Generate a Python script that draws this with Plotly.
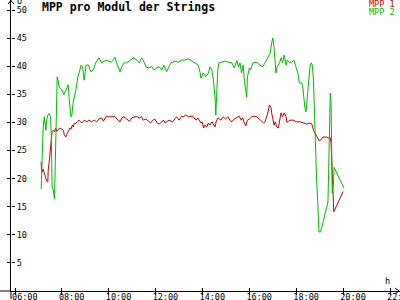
import plotly.graph_objects as go

# ---------------- data ----------------
mpp1_time = ["07:07", "07:08", "07:12", "07:17", "07:21", "07:24", "07:25", "07:28", "07:30", "07:31",
             "07:34", "07:35", "07:38", "07:41", "07:44", "07:47", "07:51", "07:55", "08:00", "08:04",
             "08:06", "08:10", "08:12", "08:16", "08:21", "08:23", "08:27", "08:29", "08:32", "08:34",
             "08:38", "08:41", "08:44", "08:51", "08:57", "09:04", "09:09", "09:16", "09:23", "09:29",
             "09:35", "09:42", "09:46", "09:53", "09:59", "10:08", "10:16", "10:24", "10:29", "10:33",
             "10:39", "10:46", "10:53", "10:59", "11:07", "11:13", "11:18", "11:24", "11:28", "11:35",
             "11:41", "11:47", "11:53", "11:58", "12:04", "12:09", "12:16", "12:20", "12:24", "12:28",
             "12:34", "12:43", "12:50", "12:54", "13:00", "13:07", "13:11", "13:17", "13:24", "13:31",
             "13:36", "13:43", "13:48", "13:52", "13:56", "13:59", "14:03", "14:06", "14:11", "14:15",
             "14:19", "14:24", "14:28", "14:32", "14:36", "14:40", "14:47", "14:53", "14:59", "15:05",
             "15:10", "15:15", "15:21", "15:28", "15:34", "15:39", "15:43", "15:47", "15:51", "15:55",
             "16:00", "16:06", "16:12", "16:19", "16:25", "16:32", "16:36", "16:40", "16:44", "16:48",
             "16:51", "16:55", "16:57", "17:00", "17:03", "17:06", "17:10", "17:14", "17:18", "17:21",
             "17:25", "17:29", "17:34", "17:36", "17:40", "17:44", "17:52", "18:01", "18:10", "18:18",
             "18:27", "18:35", "18:40", "18:44", "18:48", "18:54", "18:59", "19:03", "19:08", "19:14",
             "19:18", "19:22", "19:26", "19:29", "19:31", "19:32", "19:33", "19:36", "20:00"]
mpp1 = [23.0, 21.0, 21.7, 20.3, 19.6, 19.4, 21.5, 23.3, 25.0, 26.0,
        27.8, 28.4, 28.6, 28.3, 29.0, 28.4, 28.8, 29.0, 28.8, 28.6,
        27.8, 27.4, 27.8, 28.3, 29.0, 28.8, 29.5, 29.2, 29.9, 29.7,
        30.1, 30.2, 30.4, 29.9, 30.4, 30.1, 30.4, 30.1, 30.4, 30.1,
        30.6, 30.8, 30.2, 31.0, 31.0, 31.0, 31.0, 30.4, 30.1, 30.8,
        31.0, 30.6, 30.2, 30.8, 31.0, 31.0, 30.8, 31.0, 30.4, 30.6,
        30.2, 29.9, 30.4, 30.6, 29.9, 29.7, 30.1, 30.4, 29.9, 30.1,
        30.4, 30.1, 30.6, 31.0, 30.4, 31.1, 31.0, 31.3, 31.0, 31.1,
        31.0, 30.4, 30.8, 30.2, 29.9, 30.1, 29.0, 29.5, 29.2, 29.9,
        29.5, 30.1, 29.5, 29.2, 30.4, 30.8, 30.4, 31.0, 30.6, 31.0,
        30.4, 30.1, 30.6, 30.8, 31.1, 30.4, 30.8, 29.9, 29.4, 30.4,
        30.6, 31.0, 31.1, 31.0, 30.6, 30.1, 29.9, 30.1, 31.0, 31.9,
        33.1, 32.7, 31.7, 30.4, 29.5, 30.1, 29.2, 29.0, 30.4, 31.7,
        31.0, 31.7, 31.0, 30.0, 30.2, 30.4, 30.4, 30.1, 30.1, 29.9,
        29.7, 29.9, 29.7, 28.6, 28.1, 27.4, 26.7, 26.9, 27.4, 27.4,
        27.4, 27.2, 27.4, 26.5, 22.0, 19.6, 17.4, 14.1, 17.7]

mpp2_time = ["07:07", "07:10", "07:12", "07:15", "07:19", "07:21", "07:24", "07:27", "07:31", "07:33",
             "07:35", "07:38", "07:41", "07:42", "07:45", "07:47", "07:48", "07:51", "07:53", "08:00",
             "08:05", "08:11", "08:16", "08:19", "08:23", "08:25", "08:29", "08:36", "08:41", "08:46",
             "08:49", "08:53", "08:57", "09:02", "09:08", "09:14", "09:20", "09:27", "09:35", "09:42",
             "09:48", "09:53", "09:59", "10:06", "10:12", "10:16", "10:20", "10:24", "10:29", "10:33",
             "10:39", "10:46", "10:54", "11:03", "11:12", "11:18", "11:24", "11:28", "11:35", "11:41",
             "11:50", "11:56", "12:03", "12:09", "12:16", "12:21", "12:28", "12:32", "12:39", "12:50",
             "12:58", "13:07", "13:15", "13:24", "13:32", "13:41", "13:49", "13:54", "13:56", "14:02",
             "14:08", "14:15", "14:19", "14:24", "14:28", "14:32", "14:34", "14:36", "14:39", "14:42",
             "14:49", "14:58", "15:06", "15:15", "15:21", "15:28", "15:32", "15:36", "15:40", "15:44",
             "15:47", "15:51", "15:53", "15:55", "16:00", "16:03", "16:09", "16:14", "16:20", "16:27",
             "16:34", "16:40", "16:44", "16:48", "16:53", "16:57", "17:00", "17:03", "17:06", "17:08",
             "17:11", "17:17", "17:21", "17:25", "17:29", "17:34", "17:37", "17:42", "17:48", "17:54",
             "17:59", "18:04", "18:08", "18:14", "18:17", "18:20", "18:22", "18:25", "18:28", "18:30",
             "18:33", "18:35", "18:38", "18:41", "18:44", "18:46", "18:50", "18:52", "18:55", "18:56",
             "18:58", "19:02", "19:05", "19:09", "19:14", "19:18", "19:21", "19:22", "19:24", "19:26",
             "19:27", "19:29", "19:31", "19:32", "19:35", "19:37", "20:02"]
mpp2 = [18.1, 24.6, 29.0, 31.0, 28.6, 30.4, 31.3, 31.6, 31.0, 27.4,
        18.5, 18.0, 16.4, 19.2, 27.8, 35.8, 38.1, 37.2, 36.3, 35.8,
        34.9, 35.8, 36.7, 34.0, 31.0, 31.0, 33.6, 35.8, 38.1, 39.3,
        40.2, 39.9, 37.5, 40.2, 40.2, 39.0, 39.3, 40.7, 41.5, 40.6,
        40.9, 41.1, 40.9, 40.7, 41.1, 41.6, 40.6, 39.7, 39.0, 39.9,
        40.6, 40.6, 41.1, 41.5, 41.1, 40.6, 41.5, 41.1, 39.9, 39.7,
        39.9, 39.3, 39.7, 39.9, 39.3, 40.2, 39.0, 39.7, 40.6, 40.9,
        40.7, 41.1, 41.1, 41.3, 40.9, 40.6, 40.2, 38.8, 37.9, 38.8,
        38.1, 38.8, 39.9, 39.3, 37.5, 34.5, 31.3, 34.5, 39.3, 40.6,
        40.7, 40.9, 40.7, 40.6, 39.7, 41.0, 39.9, 40.6, 38.8, 40.2,
        37.5, 35.8, 34.5, 38.1, 39.7, 39.3, 40.6, 40.7, 40.6, 40.2,
        39.9, 40.6, 41.1, 41.6, 42.3, 44.1, 45.0, 43.4, 39.3, 38.8,
        39.9, 40.6, 41.5, 40.6, 42.0, 40.2, 41.1, 40.7, 40.7, 41.1,
        39.9, 38.8, 37.0, 37.0, 36.1, 33.6, 32.6, 31.9, 34.5, 35.4,
        38.8, 39.9, 40.6, 40.2, 37.5, 32.7, 26.3, 19.8, 15.7, 12.1,
        10.5, 10.5, 11.2, 12.3, 13.9, 14.8, 15.7, 18.5, 28.1, 32.7,
        35.2, 33.6, 22.8, 17.4, 18.8, 22.0, 18.3]

x_tick_hours = [6, 8, 10, 12, 14, 16, 18, 20, 22]
x_tick_labels = ["06:00", "08:00", "10:00", "12:00", "14:00", "16:00", "18:00", "20:00", "22:00"]
y_tick_vals = [5, 10, 15, 20, 25, 30, 35, 40, 45, 50]
y_tick_labels = [str(v) for v in y_tick_vals]

title_text = "MPP pro Modul der Strings"
series_names = ["MPP 1", "MPP 2"]
series_colors = ["#cc0000", "#00bb00"]


def to_hours(s):
    h, m = s.split(":")
    return int(h) + int(m) / 60.0


# ---------------- layout geometry ----------------
W, H = 400, 300
ML, MR, MT, MB = 11, 0, 0, 9
PW, PH = W - ML - MR, H - MT - MB
X_RANGE = [5.829, 22.425]
Y_RANGE = [0, 51.78]
FONT = "DejaVu Sans Mono"


def px(x):
    return (x - ML) / PW


def py(y):
    return (H - MB - y) / PH


fig = go.Figure()
fig.add_trace(go.Scatter(x=[to_hours(t) for t in mpp1_time], y=mpp1, mode="lines",
                         line=dict(color=series_colors[0], width=1), name=series_names[0],
                         showlegend=False))
fig.add_trace(go.Scatter(x=[to_hours(t) for t in mpp2_time], y=mpp2, mode="lines",
                         line=dict(color=series_colors[1], width=1), name=series_names[1],
                         showlegend=False))

axis_common = dict(showgrid=False, zeroline=False, linecolor="black", linewidth=1,
                   tickcolor="black", tickwidth=1, ticklen=3, automargin=False)

fig.update_layout(
    width=W, height=H,
    margin=dict(l=ML, r=MR, t=MT, b=MB, autoexpand=False),
    paper_bgcolor="white", plot_bgcolor="white",
    font=dict(family=FONT, color="black", size=8.5),
    xaxis=dict(range=X_RANGE, tickvals=x_tick_hours, ticktext=x_tick_labels,
               showline=True, ticks="outside", ticklabelposition="outside right",
               ticklabelshift=-4, ticklabelstandoff=-2, ticklabeloverflow="allow",
               tickfont=dict(family=FONT, size=8.5), **axis_common),
    yaxis=dict(range=Y_RANGE, tickvals=y_tick_vals, showticklabels=False,
               showline=True, ticks="outside", **axis_common),
    xaxis2=dict(range=X_RANGE, overlaying="x", anchor="y", side="bottom",
                tickvals=x_tick_hours, showticklabels=False, ticks="inside",
                showline=False, **axis_common),
    # right-facing copy of the y axis placed on the left edge: ticks into the plot + labels
    yaxis2=dict(range=Y_RANGE, overlaying="y", anchor="free", position=0, side="right",
                tickvals=y_tick_vals, ticktext=y_tick_labels, ticks="outside",
                ticklabeloverflow="allow", showline=False,
                tickfont=dict(family=FONT, size=8.5), **axis_common),
    showlegend=False,
)
# invisible trace to activate the overlay (tick-crossing) axes
fig.add_trace(go.Scatter(x=[X_RANGE[0]], y=[Y_RANGE[0]], xaxis="x2", yaxis="y2",
                         mode="markers", marker=dict(opacity=0), hoverinfo="skip",
                         showlegend=False))

shapes = [
    dict(type="line", xref="paper", yref="paper", x0=px(0), x1=px(11), y0=py(291), y1=py(291),
         line=dict(color="black", width=1)),
    dict(type="line", xref="paper", yref="paper", x0=px(11), x1=px(11), y0=py(291), y1=py(299),
         line=dict(color="black", width=1)),
    dict(type="path", xref="paper", yref="paper",
         path=f"M {px(395)} {py(288)} L {px(399)} {py(291)} L {px(395)} {py(294)}",
         line=dict(color="black", width=1)),
    dict(type="path", xref="paper", yref="paper",
         path=f"M {px(8)} {py(4)} L {px(11)} {py(0.5)} L {px(14)} {py(4)}",
         line=dict(color="black", width=1)),
]
fig.update_layout(shapes=shapes)

annotations = [
    dict(text="<b>" + title_text + "</b>", x=px(40), y=py(7), xref="paper", yref="paper",
         xanchor="left", yanchor="middle", showarrow=False,
         font=dict(family=FONT, size=11.5, color="black")),
    dict(text=series_names[0], x=px(396), y=py(4), xref="paper", yref="paper",
         xanchor="right", yanchor="middle", showarrow=False, borderpad=0,
         font=dict(family=FONT, size=8.5, color=series_colors[0])),
    dict(text=series_names[1], x=px(396), y=py(12), xref="paper", yref="paper",
         xanchor="right", yanchor="middle", showarrow=False, borderpad=0,
         font=dict(family=FONT, size=8.5, color=series_colors[1])),
    dict(text="U", x=px(15), y=py(1), xref="paper", yref="paper",
         xanchor="left", yanchor="middle", showarrow=False,
         font=dict(family=FONT, size=8.5, color="black")),
    dict(text="h", x=px(387), y=py(281), xref="paper", yref="paper",
         xanchor="center", yanchor="middle", showarrow=False,
         font=dict(family=FONT, size=8.5, color="black")),
]
fig.update_layout(annotations=annotations)

fig.write_html("out.html")
